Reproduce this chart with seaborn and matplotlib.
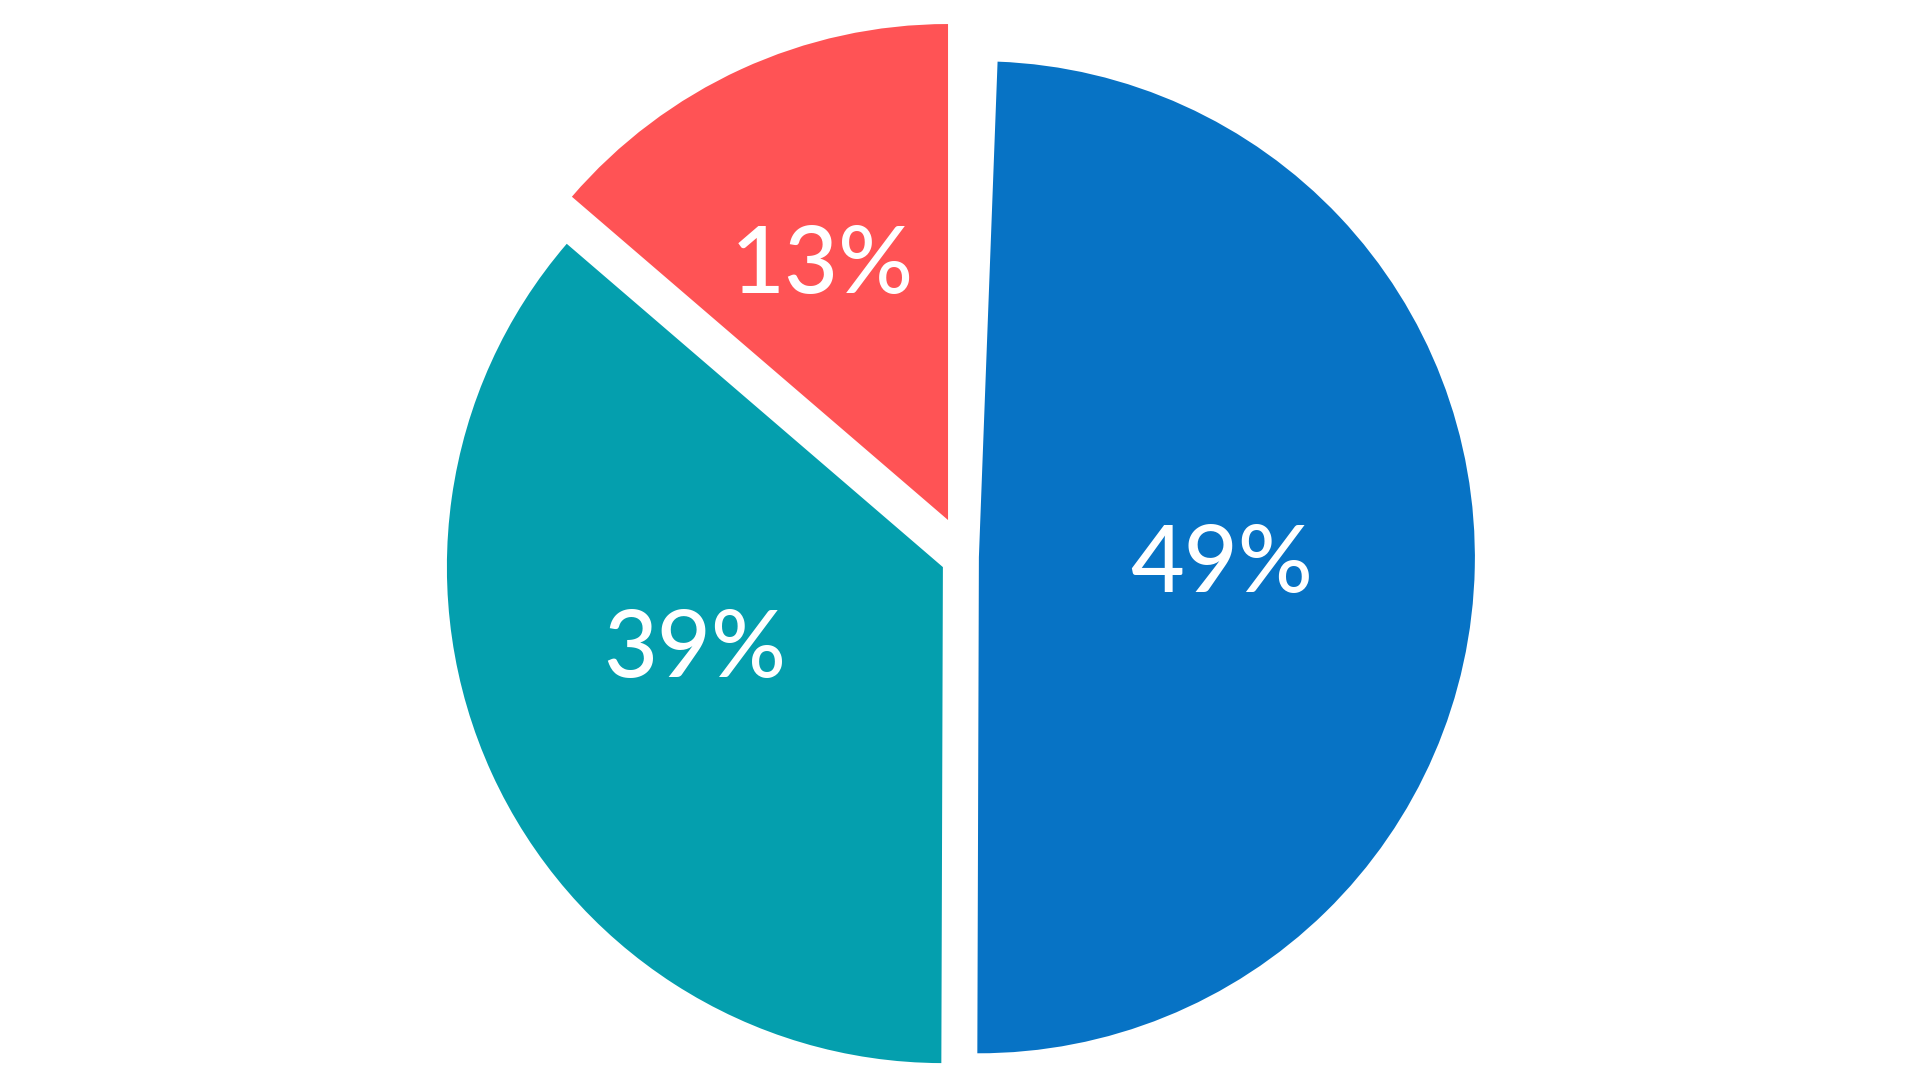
import numpy as np
import matplotlib
matplotlib.use("Agg")
import matplotlib.pyplot as plt
import seaborn as sns

# ---- data ----
categories = ["Red segment", "Teal segment", "Blue segment"]
shares = [0.137, 0.3625, 0.4945]     # slice sizes as drawn (fractions of the circle)
labels = ["13%", "39%", "49%"]       # printed labels
colors = ["#FF5355", "#049FAE", "#0773C5"]

# ---- style / layout ----
sns.set_theme(style="white")
plt.rcParams["font.family"] = ["Lato", "DejaVu Sans"]

W, H = 1920, 1081
CX, CY, R = 965.0, 557.0, 496.0          # pie centre/radius in pixels (screen coords)
explode = [0.082, 0.049, 0.028]
label_dist = [0.569, 0.528, 0.49]
label_angle_off = [1.7, -5.9, -1.0]

fig = plt.figure(figsize=(W / 100, H / 100), dpi=100)
fig.patch.set_facecolor("white")
ax = fig.add_axes([0, 0, 1, 1])

wedges, _ = ax.pie(shares, colors=colors, startangle=90, counterclock=True,
                   explode=explode, radius=1.0, center=(0, 0), normalize=False,
                   wedgeprops=dict(linewidth=0, antialiased=True))

ax.set_xlim(-CX / R, (W - CX) / R)
ax.set_ylim(-(H - CY) / R, CY / R)
ax.set_aspect("equal")
ax.axis("off")

for w, lab, d, off in zip(wedges, labels, label_dist, label_angle_off):
    cx, cy = w.center
    tm = np.deg2rad((w.theta1 + w.theta2) / 2 + off)
    ax.text(cx + d * np.cos(tm), cy + d * np.sin(tm), lab,
            ha="center", va="center", color="white", fontsize=67,
            fontweight="medium")

fig.savefig("out.png", dpi=100, facecolor="white")
